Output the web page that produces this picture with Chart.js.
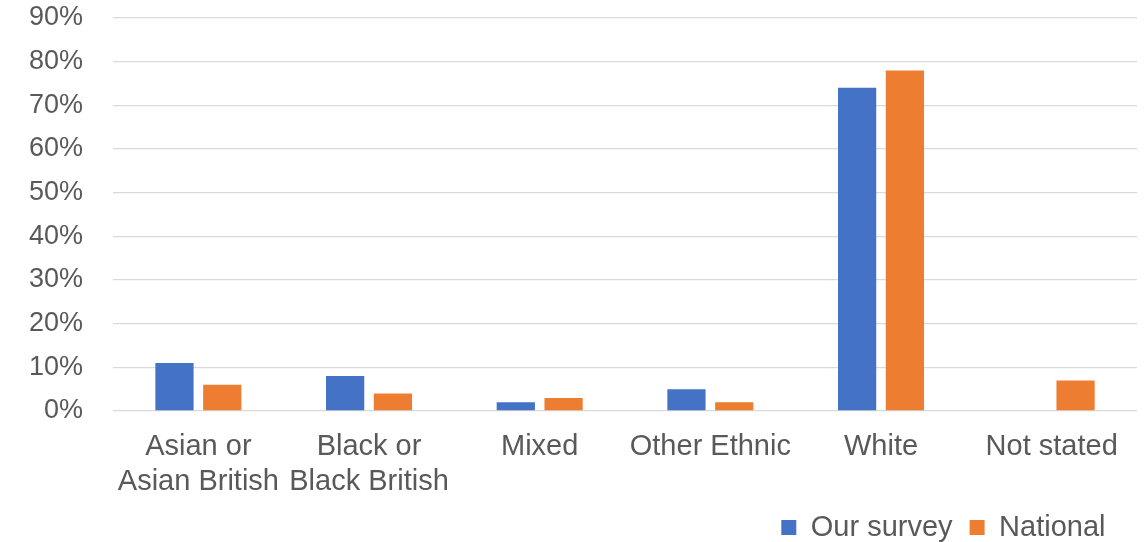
<!DOCTYPE html>
<html>
<head>
<meta charset="utf-8">
<script src="https://cdn.jsdelivr.net/npm/chart.js@4/dist/chart.umd.min.js"></script>
<style>
  html, body { margin: 0; padding: 0; background: #ffffff; }
  #wrap { width: 1147px; height: 542px; position: relative; }
</style>
</head>
<body>
<div id="wrap"><canvas id="c" width="1147" height="542"></canvas></div>
<script>
const categories = [
  ['Asian or', 'Asian British'],
  ['Black or', 'Black British'],
  'Mixed',
  'Other Ethnic',
  'White',
  'Not stated'
];
const surveyValues = [11, 8, 2, 5, 74, null];
const nationalValues = [6, 4, 3, 2, 78, 7];
const seriesNames = ['Our survey', 'National'];
const yMax = 90;
const yStep = 10;

const textColor = '#595959';
const fontFamily = '"Liberation Sans", Arial, sans-serif';

new Chart(document.getElementById('c'), {
  type: 'bar',
  data: {
    labels: categories,
    datasets: [
      { label: seriesNames[0], data: surveyValues, backgroundColor: '#4472C4', borderWidth: 0 },
      { label: seriesNames[1], data: nationalValues, backgroundColor: '#ED7D31', borderWidth: 0 }
    ]
  },
  options: {
    responsive: false,
    animation: false,
    maintainAspectRatio: false,
    datasets: { bar: { categoryPercentage: 0.56, barPercentage: 0.8 } },
    layout: { padding: { left: 29, right: 10, top: 18, bottom: -10 } },
    plugins: {
      tooltip: { enabled: false },
      legend: {
        position: 'bottom',
        align: 'end',
        labels: {
          boxWidth: 15,
          boxHeight: 15,
          padding: 17,
          color: textColor,
          font: { family: fontFamily, size: 29 },
          generateLabels: (chart) => {
            const items = Chart.defaults.plugins.legend.labels.generateLabels(chart);
            const last = items[items.length - 1];
            last.text = last.text + '\u2002';
            return items;
          }
        }
      }
    },
    scales: {
      x: {
        grid: { display: false },
        border: { display: false },
        afterFit: (s) => { s.height = 85; },
        ticks: {
          color: textColor,
          padding: 11,
          maxRotation: 0,
          autoSkip: false,
          font: { family: fontFamily, size: 29, lineHeight: 1.2 }
        }
      },
      y: {
        min: 0,
        max: yMax,
        grid: { color: '#D9D9D9', lineWidth: 1.3, drawTicks: true, tickLength: 30, tickColor: 'rgba(0,0,0,0)' },
        border: { display: false },
        ticks: {
          stepSize: yStep,
          color: textColor,
          padding: 0,
          font: { family: fontFamily, size: 27 },
          callback: (v) => v + '%'
        }
      }
    }
  }
});
</script>
</body>
</html>
